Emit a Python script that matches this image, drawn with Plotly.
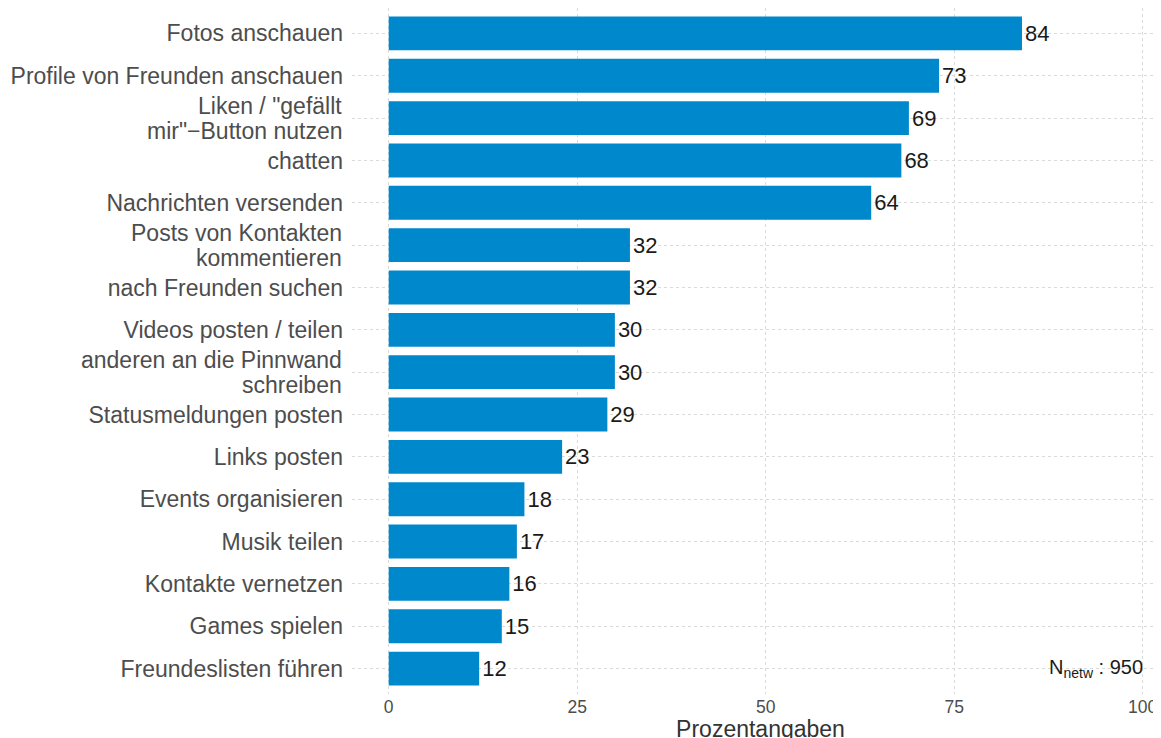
import plotly.graph_objects as go

# categories top to bottom as in the chart
categories = [
    "Fotos anschauen",
    "Profile von Freunden anschauen",
    "Liken / \"gefällt<br>mir\"−Button nutzen",
    "chatten",
    "Nachrichten versenden",
    "Posts von Kontakten<br>kommentieren",
    "nach Freunden suchen",
    "Videos posten / teilen",
    "anderen an die Pinnwand<br>schreiben",
    "Statusmeldungen posten",
    "Links posten",
    "Events organisieren",
    "Musik teilen",
    "Kontakte vernetzen",
    "Games spielen",
    "Freundeslisten führen",
]
values = [84, 73, 69, 68, 64, 32, 32, 30, 30, 29, 23, 18, 17, 16, 15, 12]
x_ticks = [0, 25, 50, 75, 100]
n_netw = 950

bar_color = "#0088cc"
font_family = "Liberation Sans, Arial, sans-serif"
label_font = dict(size=23, color="#4d4d4d", family=font_family)

fig = go.Figure()
fig.add_trace(go.Bar(
    x=values,
    y=categories,
    orientation="h",
    width=0.8,
    marker=dict(color=bar_color, line=dict(width=0)),
    text=[str(v) for v in values],
    textposition="outside",
    textfont=dict(size=22, color="#1a1a1a", family=font_family),
    cliponaxis=False,
    hoverinfo="skip",
))

# two-line labels are drawn as annotations so the line spacing can be tighter
ticktext = []
for cat in categories:
    if "<br>" in cat:
        ticktext.append("")
        lines = cat.split("<br>")
        for line, shift in zip(lines, [12, -13]):
            fig.add_annotation(
                x=0, xref="paper", y=cat, yref="y",
                text=line, showarrow=False,
                xanchor="right", yanchor="middle",
                xshift=-8, yshift=shift,
                font=label_font,
            )
    else:
        ticktext.append(cat)

# sample size note, bottom right
fig.add_annotation(
    x=100.3, y=categories[-1], xref="x", yref="y",
    text=f"N<sub>netw</sub> : {n_netw}",
    showarrow=False, xanchor="right", yanchor="middle",
    font=dict(size=20, color="#1a1a1a", family=font_family),
)

# page body adds 8px offset, margins compensate for it
fig.update_layout(
    width=1161, height=738,
    margin=dict(l=344, r=0, t=0, b=52, autoexpand=False),
    plot_bgcolor="white", paper_bgcolor="white",
    showlegend=False,
    font=dict(family=font_family, color="#4d4d4d"),
)
fig.update_xaxes(
    range=[-4.87, 103.5],
    tickvals=x_ticks,
    ticktext=[str(t) for t in x_ticks],
    tickfont=dict(size=17.5, color="#4d4d4d"),
    showgrid=True, gridcolor="#dadada", griddash="dot", gridwidth=1,
    zeroline=False, showline=False, ticks="",
    automargin=False,
    title=dict(text="Prozentangaben", font=dict(size=23, color="#333333"), standoff=0),
)
fig.update_yaxes(
    categoryorder="array",
    categoryarray=categories[::-1],
    tickvals=categories,
    ticktext=ticktext,
    range=[-0.6, len(categories) - 0.4],
    tickfont=label_font,
    showgrid=True, gridcolor="#dadada", griddash="dot", gridwidth=1,
    zeroline=False, showline=False, ticks="",
    automargin=False,
    ticklabelstandoff=8,
)

fig.write_html("out.html")
